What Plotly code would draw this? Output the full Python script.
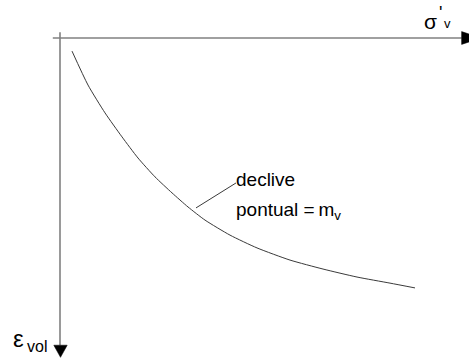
import plotly.graph_objects as go

# Compression curve: vertical effective stress vs volumetric strain (arbitrary units)
sigma_v = [0.30, 0.70, 1.125, 1.55, 1.95, 2.375, 2.80, 3.20, 3.625, 4.25,
           4.925, 5.75, 6.575, 7.425, 8.25, 8.875]
eps_vol = [0.41, 1.47, 2.34, 3.09, 3.75, 4.34, 4.84, 5.28, 5.69, 6.16,
           6.56, 6.94, 7.22, 7.47, 7.66, 7.81]

# Leader from the curve to the slope label
leader_x = [3.40, 4.40]
leader_y = [5.31, 4.53]

# Drawing extents (data units)
X_MIN, X_MAX = -1.5, 10.225
Y_MIN, Y_MAX = -1.1875, 10.15625
AXIS_X_END = 10.04
AXIS_Y_END = 9.6
AXIS_START = -0.18

AXIS_COLOR = "#808080"
FONT = "Liberation Sans, Arial, sans-serif"

fig = go.Figure()

fig.add_trace(go.Scatter(
    x=sigma_v, y=eps_vol, mode="lines",
    line=dict(color="#3a3a3a", width=1, shape="spline", smoothing=0.6),
    hoverinfo="skip", showlegend=False,
))
fig.add_trace(go.Scatter(
    x=leader_x, y=leader_y, mode="lines",
    line=dict(color="#3a3a3a", width=1),
    hoverinfo="skip", showlegend=False,
))

shapes = [
    # horizontal axis (sigma'_v)
    dict(type="line", xref="x", yref="y", x0=AXIS_START, x1=AXIS_X_END, y0=0, y1=0,
         line=dict(color=AXIS_COLOR, width=1.6)),
    # vertical axis (eps_vol)
    dict(type="line", xref="x", yref="y", x0=0, x1=0, y0=AXIS_START, y1=AXIS_Y_END,
         line=dict(color=AXIS_COLOR, width=1.6)),
    # arrowheads
    dict(type="path", xref="x", yref="y",
         path=f"M {AXIS_X_END},-0.20 L {AXIS_X_END + 0.5},0 L {AXIS_X_END},0.20 Z",
         fillcolor="black", line=dict(color="black", width=0.5)),
    dict(type="path", xref="x", yref="y",
         path=f"M -0.155,{AXIS_Y_END} L 0.18,{AXIS_Y_END} L 0.0125,{AXIS_Y_END + 0.38} Z",
         fillcolor="black", line=dict(color="black", width=0.5)),
]

def label(text, x, y, size, xanchor="center"):
    return dict(text=text, x=x, y=y, xref="x", yref="y", showarrow=False,
                xanchor=xanchor, yanchor="middle",
                font=dict(family=FONT, size=size, color="black"))

annotations = [
    label("σ", 9.25, -0.53, 21),
    label("'", 9.52, -0.78, 18),
    label("v", 9.68, -0.44, 13),
    label("ε", -1.03, 9.38, 24),
    label("vol", -0.58, 9.64, 16),
    label("declive", 4.35, 4.42, 19, xanchor="left"),
    label("pontual =\u2009m<sub>v</sub>", 4.35, 5.40, 19, xanchor="left"),
]

fig.update_layout(
    width=469, height=363,
    margin=dict(l=0, r=0, t=0, b=0),
    paper_bgcolor="white", plot_bgcolor="white",
    xaxis=dict(range=[X_MIN, X_MAX], visible=False, fixedrange=True),
    yaxis=dict(range=[Y_MAX, Y_MIN], visible=False, fixedrange=True),
    shapes=shapes, annotations=annotations,
    showlegend=False,
)

fig.write_html("out.html")
